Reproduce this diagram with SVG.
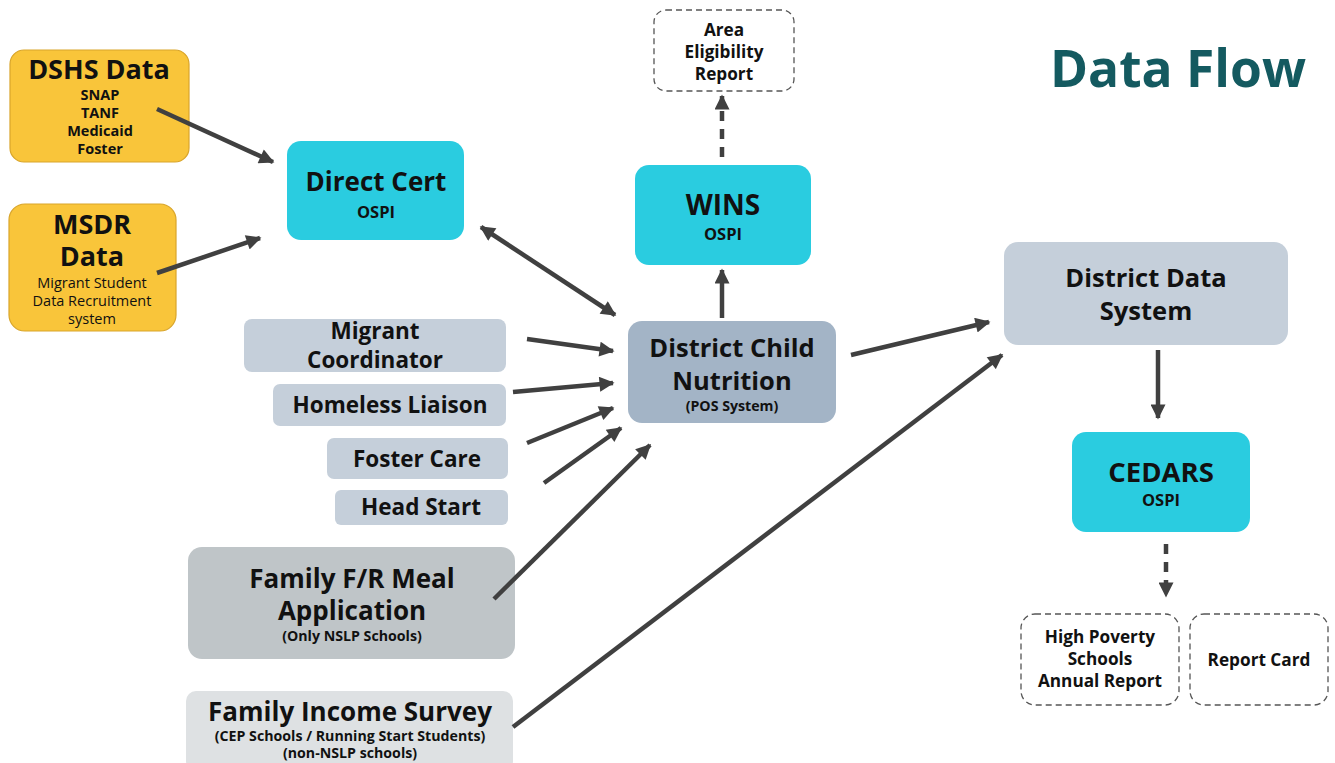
<svg xmlns="http://www.w3.org/2000/svg" width="1335" height="763" viewBox="0 0 1335 763">
<defs>
<style>
text{font-family:"Open Sans","Noto Sans","DejaVu Sans",sans-serif;font-weight:700;fill:#111;text-anchor:middle}
.gold{fill:#F9C53A;stroke:#D9A52A;stroke-width:1.2}
.cyan{fill:#2ACCE0}
.dcn{fill:#A3B4C6}
.lg{fill:#C5CFDA}
.fr{fill:#BFC5C8}
.fis{fill:#DEE1E3}
.dash{fill:#fff;stroke:#555;stroke-width:1.3;stroke-dasharray:6 4}
.big{font-size:26px}
.med{font-size:22.5px}
.sm{font-size:14.5px}
.os{font-size:16.5px}
.xs{font-size:14.2px}
.rp{font-size:17.2px}
.reg{font-weight:400}
.c{stroke:#404040;stroke-width:4.5;fill:none}
.cd{stroke:#404040;stroke-width:4.5;fill:none;stroke-dasharray:10 8}
</style>
<marker id="ah" viewBox="0 0 10 10" refX="9" refY="5" markerWidth="17" markerHeight="15" markerUnits="userSpaceOnUse" orient="auto">
<path d="M0,0 L10,5 L0,10 z" fill="#404040"/>
</marker>
<marker id="as" viewBox="0 0 10 10" refX="1" refY="5" markerWidth="17" markerHeight="15" markerUnits="userSpaceOnUse" orient="auto">
<path d="M10,0 L0,5 L10,10 z" fill="#404040"/>
</marker>
</defs>
<rect width="1335" height="763" fill="#fff"/>

<text x="1178" y="87" style="font-size:51.5px;fill:#145A60">Data Flow</text>

<g id="dshs">
<rect class="gold" x="10" y="50" width="179" height="112" rx="14"/>
<text style="font-size:27px" x="99" y="79">DSHS Data</text>
<text class="sm" x="100" y="100">SNAP</text>
<text class="sm" x="100" y="118">TANF</text>
<text class="sm" x="100" y="136">Medicaid</text>
<text class="sm" x="100" y="154">Foster</text>
</g>

<g id="msdr">
<rect class="gold" x="9" y="204" width="167" height="127" rx="16"/>
<text style="font-size:27px" x="92" y="234">MSDR</text>
<text style="font-size:27px" x="92" y="266">Data</text>
<text class="sm reg" x="92" y="288">Migrant Student</text>
<text class="sm reg" x="92" y="306">Data Recruitment</text>
<text class="sm reg" x="92" y="324">system</text>
</g>

<g id="directcert">
<rect class="cyan" x="287" y="141" width="177" height="99" rx="14"/>
<text class="big" x="376" y="191">Direct Cert</text>
<text class="os" x="376" y="218">OSPI</text>
</g>

<g id="area">
<rect class="dash" x="654" y="10" width="140" height="81" rx="12"/>
<text class="rp" x="724" y="36">Area</text>
<text class="rp" x="724" y="58">Eligibility</text>
<text class="rp" x="724" y="80">Report</text>
</g>

<g id="wins">
<rect class="cyan" x="635" y="165" width="176" height="100" rx="14"/>
<text style="font-size:28px" x="723" y="215">WINS</text>
<text class="os" x="723" y="240">OSPI</text>
</g>

<g id="dcn">
<rect class="dcn" x="628" y="321" width="208" height="102" rx="14"/>
<text style="font-size:25.5px" x="732" y="357">District Child</text>
<text style="font-size:25.5px" x="732" y="390">Nutrition</text>
<text class="xs" x="732" y="411">(POS System)</text>
</g>

<g id="migrant">
<rect class="lg" x="244" y="319" width="262" height="53" rx="8"/>
<text class="med" x="375" y="339">Migrant</text>
<text class="med" x="375" y="368">Coordinator</text>
</g>

<g id="homeless">
<rect class="lg" x="273" y="384" width="233" height="42" rx="7"/>
<text class="med" x="390" y="413">Homeless Liaison</text>
</g>

<g id="foster">
<rect class="lg" x="327" y="438" width="181" height="41" rx="7"/>
<text class="med" x="417" y="467">Foster Care</text>
</g>

<g id="headstart">
<rect class="lg" x="335" y="490" width="173" height="35" rx="6"/>
<text class="med" x="421" y="515">Head Start</text>
</g>

<g id="frmeal">
<rect class="fr" x="188" y="547" width="327" height="112" rx="14"/>
<text class="big" x="352" y="588">Family F/R Meal</text>
<text class="big" x="352" y="620">Application</text>
<text class="xs" x="352" y="641">(Only NSLP Schools)</text>
</g>

<g id="incomesurvey">
<rect class="fis" x="186" y="691" width="327" height="80" rx="10"/>
<text class="big" x="350" y="721">Family Income Survey</text>
<text class="xs" x="350" y="741">(CEP Schools / Running Start Students)</text>
<text class="xs" x="350" y="758">(non-NSLP schools)</text>
</g>

<g id="dds">
<rect class="lg" x="1004" y="242" width="284" height="103" rx="14"/>
<text style="font-size:25.5px" x="1146" y="287">District Data</text>
<text style="font-size:25.5px" x="1146" y="320">System</text>
</g>

<g id="cedars">
<rect class="cyan" x="1072" y="432" width="178" height="100" rx="14"/>
<text style="font-size:27.5px" x="1161" y="482">CEDARS</text>
<text class="os" x="1161" y="506">OSPI</text>
</g>

<g id="hpsar">
<rect class="dash" x="1021" y="614" width="158" height="91" rx="14"/>
<text class="rp" x="1100" y="643">High Poverty</text>
<text class="rp" x="1100" y="665">Schools</text>
<text class="rp" x="1100" y="687">Annual Report</text>
</g>

<g id="reportcard">
<rect class="dash" x="1190" y="614" width="138" height="91" rx="14"/>
<text class="rp" x="1259" y="666">Report Card</text>
</g>

<g id="connectors">
<line class="c" x1="157" y1="109" x2="273" y2="162" marker-end="url(#ah)"/>
<line class="c" x1="157" y1="273" x2="260" y2="238" marker-end="url(#ah)"/>
<line class="c" x1="481" y1="227" x2="615" y2="315" marker-start="url(#as)" marker-end="url(#ah)"/>
<line class="c" x1="527" y1="339" x2="613" y2="351" marker-end="url(#ah)"/>
<line class="c" x1="513" y1="392" x2="613" y2="383" marker-end="url(#ah)"/>
<line class="c" x1="527" y1="443" x2="613" y2="408" marker-end="url(#ah)"/>
<line class="c" x1="544" y1="483" x2="621" y2="428" marker-end="url(#ah)"/>
<line class="c" x1="494" y1="599" x2="650" y2="445" marker-end="url(#ah)"/>
<line class="c" x1="513" y1="727" x2="1002" y2="355" marker-end="url(#ah)"/>
<line class="c" x1="851" y1="355" x2="989" y2="322" marker-end="url(#ah)"/>
<line class="c" x1="722" y1="318" x2="722" y2="270" marker-end="url(#ah)"/>
<line class="cd" x1="722" y1="157" x2="722" y2="96" marker-end="url(#ah)"/>
<line class="c" x1="1158" y1="350" x2="1158" y2="418" marker-end="url(#ah)"/>
<line class="cd" x1="1166" y1="544" x2="1166" y2="596" marker-end="url(#ah)"/>
</g>
</svg>
